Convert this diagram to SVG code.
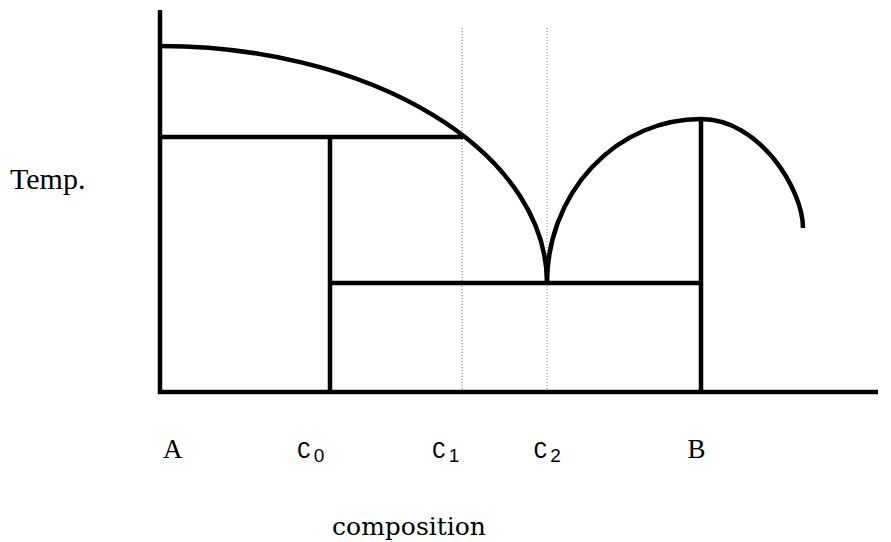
<svg xmlns="http://www.w3.org/2000/svg" width="891" height="542" viewBox="0 0 891 542">
<style>
.thick{stroke:#000;stroke-width:4.5;fill:none;stroke-linecap:butt}
.dot{stroke:#777;stroke-width:1;stroke-dasharray:1,2;fill:none}
.serif{font-family:"Liberation Serif","Times New Roman",serif;fill:#000}
.mono{font-family:"Liberation Mono","Courier New",monospace;fill:#000}
.sub{font-family:"Liberation Sans",Arial,sans-serif}
.comp{font-family:"DejaVu Serif",serif;fill:#000}
</style>
<rect width="891" height="542" fill="#fff"/>
<g id="guides">
<line class="dot" x1="462" y1="28" x2="462" y2="392"/>
<line class="dot" x1="547" y1="28" x2="547" y2="392"/>
</g>
<g id="axes">
<line class="thick" x1="160" y1="10" x2="160" y2="394"/>
<line class="thick" x1="158" y1="392" x2="878" y2="392"/>
</g>
<g id="curves">
<path class="thick" d="M160 46 A387 237 0 0 1 547 283"/>
<path class="thick" d="M547 283 A154 164 0 0 1 701 119 C760 119 803 190 803 228"/>
</g>
<g id="lines">
<line class="thick" x1="160" y1="137" x2="463" y2="137"/>
<line class="thick" x1="330" y1="137" x2="330" y2="392"/>
<line class="thick" x1="330" y1="283" x2="701" y2="283"/>
<line class="thick" x1="701" y1="119" x2="701" y2="392"/>
</g>
<g id="labels">
<text class="serif" x="10" y="189" font-size="30">Temp.</text>
<text class="serif" x="163" y="458" font-size="27">A</text>
<text class="serif" x="687.5" y="458" font-size="27">B</text>
<text class="mono" x="297" y="458" font-size="23">C<tspan class="sub" font-size="19" dx="3" dy="4">0</tspan></text>
<text class="mono" x="432" y="458" font-size="23">C<tspan class="sub" font-size="19" dx="3" dy="4">1</tspan></text>
<text class="mono" x="533.5" y="458" font-size="23">C<tspan class="sub" font-size="19" dx="3" dy="4">2</tspan></text>
<text class="comp" x="409" y="535" font-size="25" text-anchor="middle">composition</text>
</g>
</svg>
